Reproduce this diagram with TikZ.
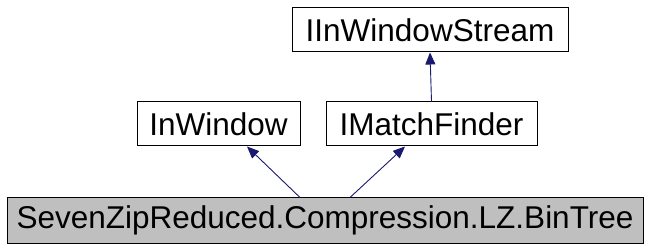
\documentclass[tikz,border=0pt]{standalone}
\usepackage{fontspec}
\setmainfont{Liberation Sans}
\usetikzlibrary{arrows.meta,calc}
\definecolor{edgeblue}{HTML}{191970}
\definecolor{selfgray}{HTML}{BFBFBF}
\begin{document}
\begin{tikzpicture}[x=1pt,y=-1pt,
  cls/.style={draw=black,line width=1pt,fill=white,inner sep=0pt,
    minimum height=44pt,font=\fontsize{31.5}{31.5}\selectfont},
  inh/.style={draw=edgeblue,line width=0.9pt,
    -{Triangle[length=12pt,width=10pt,fill=edgeblue]}}]
  \useasboundingbox (0,0) rectangle (651,251);
  \fill[white] (0,0) rectangle (651,251);
  % class boxes
  \node[cls,minimum width=276pt] (stream) at (430,30) {IInWindowStream};
  \node[cls,minimum width=163pt] (win) at (218.5,124) {InWindow};
  \node[cls,minimum width=211pt] (finder) at (431.5,124) {IMatchFinder};
  \node[cls,fill=selfgray,minimum width=636pt,minimum height=45pt] (bt) at (325,220.5)
    {SevenZipReduced.Compression.LZ.BinTree};
  % edge end points on the box borders
  \coordinate (btL) at ($(bt.north)+(-25,0)$);
  \coordinate (btR) at ($(bt.north)+(25,0)$);
  \coordinate (winB) at ($(win.south)+(28.5,0)$);
  \coordinate (finB) at ($(finder.south)+(-26.5,0)$);
  % inheritance arrows
  \draw[inh] (btL) -- (winB);
  \draw[inh] (btR) -- (finB);
  \draw[inh] (finder.north) -- (stream.south);
\end{tikzpicture}
\end{document}
